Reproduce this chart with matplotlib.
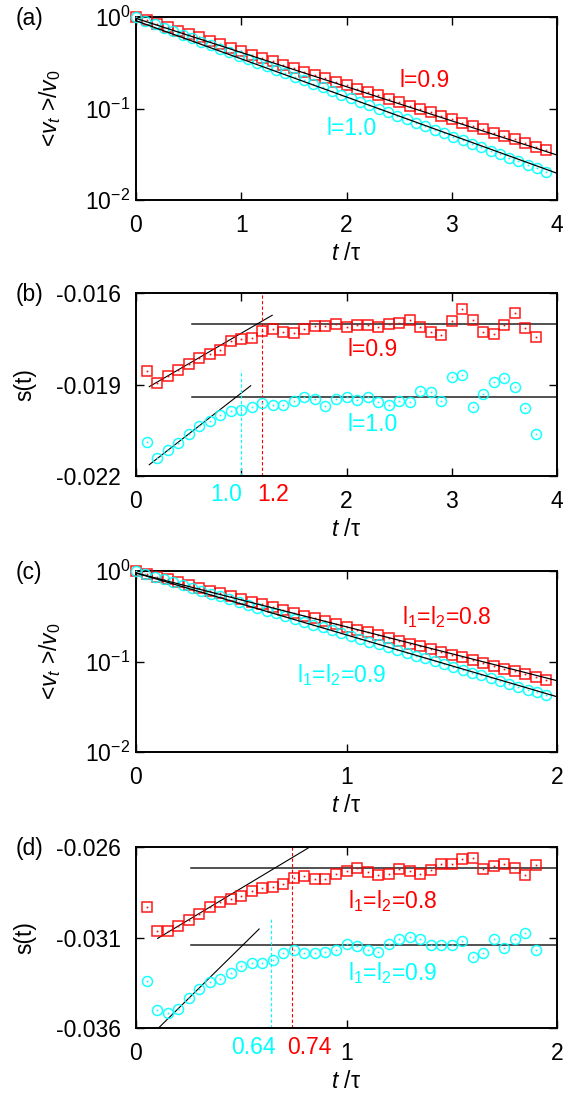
import numpy as np
import matplotlib.pyplot as plt
import matplotlib.transforms as mtransforms

plt.rcParams['font.family'] = ['Liberation Sans', 'DejaVu Sans']
plt.rcParams['mathtext.fontset'] = 'custom'
plt.rcParams['mathtext.rm'] = 'Liberation Sans'
plt.rcParams['mathtext.it'] = 'Liberation Sans:italic'
plt.rcParams['axes.unicode_minus'] = False

RED = '#ff0000'
CYAN = '#00ffff'
FS = 16.5

# --- (a) velocity decay, l=0.9 (squares) and l=1.0 (circles) ---
t_a_red = np.linspace(0, 3.9, 40)
v_a_red = [1.000, 0.918, 0.842, 0.773, 0.709, 0.651, 0.598, 0.548, 0.503, 0.462,
           0.424, 0.389, 0.357, 0.328, 0.301, 0.276, 0.253, 0.233, 0.213, 0.196,
           0.180, 0.165, 0.151, 0.139, 0.128, 0.117, 0.107, 0.099, 0.091, 0.083,
           0.076, 0.070, 0.064, 0.059, 0.054, 0.050, 0.046, 0.042, 0.038, 0.035]
t_a_cyan = np.linspace(0, 3.9, 45)
v_a_cyan = [1.000, 0.915, 0.838, 0.766, 0.701, 0.642, 0.587, 0.538, 0.492, 0.450,
            0.412, 0.377, 0.345, 0.316, 0.289, 0.264, 0.242, 0.222, 0.203, 0.186,
            0.170, 0.156, 0.142, 0.130, 0.119, 0.109, 0.0998, 0.0914, 0.0836, 0.0765,
            0.0700, 0.0641, 0.0587, 0.0537, 0.0491, 0.0450, 0.0411, 0.0376, 0.0345,
            0.0315, 0.0289, 0.0264, 0.0242, 0.0221, 0.0202]
fit_a_t = [0, 4]
fit_a_red = [0.967, 0.031]
fit_a_cyan = [0.91, 0.0196]

# --- (b) s(t) for l=0.9 and l=1.0 ---
t_b = np.linspace(0.1, 3.8, 38)
s_b_red = [-0.01856, -0.01896, -0.01872, -0.01852, -0.01834, -0.01814, -0.01800,
           -0.01786, -0.01759, -0.01750, -0.01746, -0.01726, -0.01718, -0.01727,
           -0.01732, -0.01718, -0.01707, -0.01707, -0.01701, -0.01712, -0.01704,
           -0.01704, -0.01710, -0.01702, -0.01697, -0.01690, -0.01712, -0.01729,
           -0.01737, -0.01691, -0.01653, -0.01688, -0.01727, -0.01735, -0.01704,
           -0.01666, -0.01715, -0.01743]
s_b_cyan = [-0.02089, -0.02141, -0.02116, -0.02091, -0.02061, -0.02037, -0.02019,
            -0.02001, -0.01988, -0.01984, -0.01975, -0.01962, -0.01966, -0.01966,
            -0.01953, -0.01940, -0.01948, -0.01971, -0.01946, -0.01942, -0.01951,
            -0.01940, -0.01958, -0.01966, -0.01955, -0.01956, -0.01921, -0.01925,
            -0.01954, -0.01876, -0.01870, -0.01975, -0.01932, -0.01891, -0.01880,
            -0.01909, -0.01978, -0.02063]
plateau_b_t = [0.53, 4.0]
plateau_b_red = -0.01701
plateau_b_cyan = -0.01941
slope_b_red_t, slope_b_red = [0.126, 1.294], [-0.01907, -0.01673]
slope_b_cyan_t, slope_b_cyan = [0.126, 1.09], [-0.02163, -0.01904]
cross_b_red, cross_b_cyan = 1.2, 1.0
cross_b_cyan_top = -0.01852

# --- (c) velocity decay, l1=l2=0.8 (squares) and l1=l2=0.9 (circles) ---
t_c_red = np.linspace(0, 1.95, 40)
v_c_red = [1.000, 0.931, 0.868, 0.808, 0.753, 0.701, 0.653, 0.608, 0.567, 0.528,
           0.492, 0.458, 0.427, 0.397, 0.370, 0.345, 0.321, 0.299, 0.278, 0.259,
           0.242, 0.225, 0.210, 0.195, 0.182, 0.169, 0.158, 0.147, 0.137, 0.128,
           0.119, 0.111, 0.103, 0.096, 0.089, 0.083, 0.078, 0.072, 0.067, 0.063]
t_c_cyan = np.linspace(0, 1.95, 45)
v_c_cyan = [1.000, 0.931, 0.866, 0.806, 0.751, 0.698, 0.650, 0.605, 0.563, 0.524,
            0.488, 0.454, 0.422, 0.393, 0.366, 0.341, 0.317, 0.295, 0.275, 0.256,
            0.238, 0.221, 0.206, 0.192, 0.178, 0.166, 0.155, 0.144, 0.134, 0.125,
            0.116, 0.108, 0.101, 0.0937, 0.0871, 0.0811, 0.0755, 0.0702, 0.0654,
            0.0608, 0.0566, 0.0527, 0.0490, 0.0456, 0.0425]
fit_c_t = [0, 2]
fit_c_red = [0.95, 0.0614]
fit_c_cyan = [0.95, 0.0408]

# --- (d) s(t) for l1=l2=0.8 and l1=l2=0.9 ---
t_d = np.linspace(0.05, 1.9, 38)
s_d_red = [-0.02932, -0.03062, -0.03062, -0.03037, -0.03004, -0.02971, -0.02930,
           -0.02905, -0.02890, -0.02872, -0.02842, -0.02824, -0.02820, -0.02806,
           -0.02769, -0.02758, -0.02778, -0.02776, -0.02750, -0.02732, -0.02714,
           -0.02738, -0.02756, -0.02747, -0.02719, -0.02734, -0.02747, -0.02725,
           -0.02695, -0.02692, -0.02664, -0.02661, -0.02719, -0.02706, -0.02695,
           -0.02714, -0.02756, -0.02701]
s_d_cyan = [-0.03338, -0.03499, -0.03517, -0.03495, -0.03437, -0.03382, -0.03345,
            -0.03327, -0.03297, -0.03257, -0.03242, -0.03242, -0.03224, -0.03187,
            -0.03169, -0.03183, -0.03183, -0.03180, -0.03169, -0.03136, -0.03147,
            -0.03169, -0.03182, -0.03138, -0.03106, -0.03099, -0.03110, -0.03143,
            -0.03143, -0.03139, -0.03121, -0.03206, -0.03183, -0.03106, -0.03158,
            -0.03106, -0.03073, -0.03169]
plateau_d_t = [0.263, 2.0]
plateau_d_red = -0.02717
plateau_d_cyan = -0.03139
slope_d_red_t, slope_d_red = [0.103, 0.826], [-0.03105, -0.02600]
slope_d_cyan_t, slope_d_cyan = [0.107, 0.585], [-0.03600, -0.03053]
cross_d_red, cross_d_cyan = 0.74, 0.64
cross_d_cyan_top = -0.02998


def marks(ax, t, v, color, marker):
    ax.plot(t, v, linestyle='none', marker=marker, ms=7.2, mfc='none',
            mec=color, mew=1.1, alpha=0.9, clip_on=False, zorder=3)
    ax.plot(t, v, linestyle='none', marker='s', ms=1.2, mfc=color,
            mec=color, mew=0, clip_on=False, zorder=3)


def style(ax, xmax, ypad):
    for sp in ax.spines.values():
        sp.set_linewidth(1.4)
    ax.tick_params(which='major', direction='in', top=True, right=True,
                   length=6, width=1.0, labelsize=FS)
    ax.tick_params(axis='x', pad=10)
    ax.tick_params(axis='y', pad=ypad)
    ax.minorticks_off()
    ax.set_xlim(0, xmax)
    ax.set_xlabel('$t$ /τ', fontsize=FS, labelpad=4)


fig = plt.figure(figsize=(5.71, 10.93), dpi=100)
L, W = 136 / 571, 421 / 571
axa = fig.add_axes([L, 1 - 200 / 1093, W, 183 / 1093])
axb = fig.add_axes([L, 1 - 476 / 1093, W, 183 / 1093])
axc = fig.add_axes([L, 1 - 752 / 1093, W, 181 / 1093])
axd = fig.add_axes([L, 1 - 1028 / 1093, W, 181 / 1093])

# (a)
axa.set_yscale('log')
axa.plot(fit_a_t, fit_a_red, color='k', lw=0.9, zorder=4)
axa.plot(fit_a_t, fit_a_cyan, color='k', lw=0.9, zorder=4)
marks(axa, t_a_red, v_a_red, RED, 's')
marks(axa, t_a_cyan, v_a_cyan, CYAN, 'o')
axa.set_ylim(1e-2, 1)
axa.set_yticks([1e-2, 1e-1, 1])
axa.set_xticks([0, 1, 2, 3, 4])
style(axa, 4, 4)
axa.minorticks_off()
axa.set_ylabel('<$v_t$ >/$v_0$', fontsize=FS)
axa.yaxis.set_label_coords(-0.173, 0.5)
axa.text(2.74, 0.20, 'l=0.9', color=RED, fontsize=FS, ha='center', va='center')
axa.text(2.05, 0.061, 'l=1.0', color=CYAN, fontsize=FS, ha='center', va='center')

# (b)
axb.plot(plateau_b_t, [plateau_b_red] * 2, color='#222222', lw=1.1)
axb.plot(plateau_b_t, [plateau_b_cyan] * 2, color='#222222', lw=1.1)
axb.plot(slope_b_red_t, slope_b_red, color='k', lw=0.8)
axb.plot(slope_b_cyan_t, slope_b_cyan, color='k', lw=0.8)
axb.axvline(cross_b_red, color=RED, lw=0.8, ls=(0, (3, 2)))
axb.plot([cross_b_cyan] * 2, [-0.022, cross_b_cyan_top], color=CYAN, lw=0.8,
         ls=(0, (3, 2)))
marks(axb, t_b, s_b_red, RED, 's')
marks(axb, t_b, s_b_cyan, CYAN, 'o')
axb.set_ylim(-0.022, -0.016)
axb.set_yticks([-0.022, -0.019, -0.016])
axb.set_yticklabels(['-0.022', '-0.019', '-0.016'])
axb.set_xticks([0, 1, 2, 3, 4])
axb.set_xticklabels(['0', '', '2', '3', '4'])
style(axb, 4, 11)
axb.set_ylabel('s(t)', fontsize=FS)
axb.yaxis.set_label_coords(-0.236, 0.5)
tb = mtransforms.blended_transform_factory(axb.transData, axb.transAxes)
axb.text(0.853, -0.1, '1.0', color=CYAN, fontsize=FS, ha='center', va='center', transform=tb)
axb.text(1.30, -0.1, '1.2', color=RED, fontsize=FS, ha='center', va='center', transform=tb)
axb.text(2.25, -0.01786, 'l=0.9', color=RED, fontsize=FS, ha='center', va='center')
axb.text(2.25, -0.0203, 'l=1.0', color=CYAN, fontsize=FS, ha='center', va='center')

# (c)
axc.set_yscale('log')
axc.plot(fit_c_t, fit_c_red, color='k', lw=0.9, zorder=4)
axc.plot(fit_c_t, fit_c_cyan, color='k', lw=0.9, zorder=4)
marks(axc, t_c_red, v_c_red, RED, 's')
marks(axc, t_c_cyan, v_c_cyan, CYAN, 'o')
axc.set_ylim(1e-2, 1)
axc.set_yticks([1e-2, 1e-1, 1])
axc.set_xticks([0, 1, 2])
style(axc, 2, 4)
axc.minorticks_off()
axc.set_ylabel('<$v_t$ >/$v_0$', fontsize=FS)
axc.yaxis.set_label_coords(-0.173, 0.5)
axc.text(1.474, 0.313, 'l$_1$=l$_2$=0.8', color=RED, fontsize=FS, ha='center', va='center')
axc.text(0.975, 0.071, 'l$_1$=l$_2$=0.9', color=CYAN, fontsize=FS, ha='center', va='center')

# (d)
axd.plot(plateau_d_t, [plateau_d_red] * 2, color='#222222', lw=1.1)
axd.plot(plateau_d_t, [plateau_d_cyan] * 2, color='#222222', lw=1.1)
axd.plot(slope_d_red_t, slope_d_red, color='k', lw=0.8)
axd.plot(slope_d_cyan_t, slope_d_cyan, color='k', lw=0.8)
axd.axvline(cross_d_red, color=RED, lw=0.8, ls=(0, (3, 2)))
axd.plot([cross_d_cyan] * 2, [-0.036, cross_d_cyan_top], color=CYAN, lw=0.8,
         ls=(0, (3, 2)))
marks(axd, t_d, s_d_red, RED, 's')
marks(axd, t_d, s_d_cyan, CYAN, 'o')
axd.set_ylim(-0.036, -0.026)
axd.set_yticks([-0.036, -0.031, -0.026])
axd.set_yticklabels(['-0.036', '-0.031', '-0.026'])
axd.set_xticks([0, 1, 2])
style(axd, 2, 11)
axd.set_ylabel('s(t)', fontsize=FS)
axd.yaxis.set_label_coords(-0.236, 0.5)
td = mtransforms.blended_transform_factory(axd.transData, axd.transAxes)
axd.text(0.559, -0.105, '0.64', color=CYAN, fontsize=FS, ha='center', va='center', transform=td)
axd.text(0.823, -0.105, '0.74', color=RED, fontsize=FS, ha='center', va='center', transform=td)
axd.text(1.22, -0.02897, 'l$_1$=l$_2$=0.8', color=RED, fontsize=FS, ha='center', va='center')
axd.text(1.22, -0.03294, 'l$_1$=l$_2$=0.9', color=CYAN, fontsize=FS, ha='center', va='center')

# panel letters
for lab, ypix in [('(a)', 18), ('(b)', 295), ('(c)', 573), ('(d)', 848)]:
    fig.text(16 / 571, 1 - ypix / 1093, lab, fontsize=FS, ha='left', va='center')

fig.savefig('out.png', dpi=100)
